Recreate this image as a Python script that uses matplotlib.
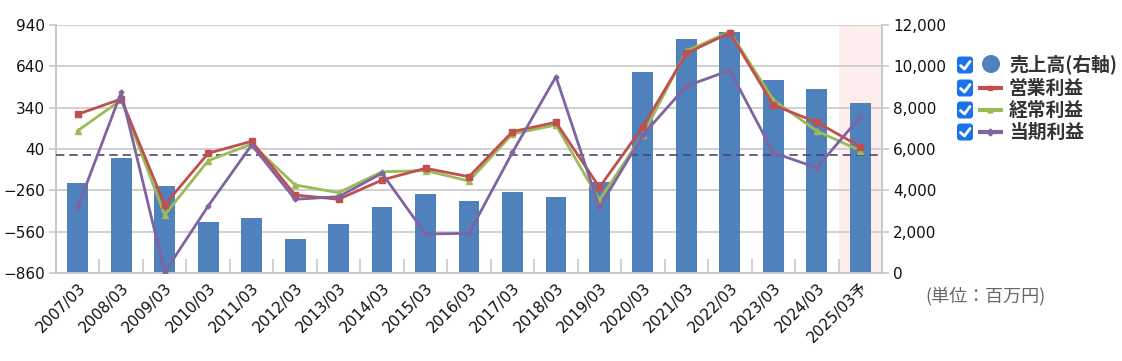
#
# 売上高・利益の推移チャート
#

import matplotlib.pyplot as plt
from matplotlib.patches import FancyBboxPatch, Circle
from matplotlib.ticker import FuncFormatter

plt.rcParams['font.family'] = ['DejaVu Sans', 'Noto Sans CJK JP']

# データ
years = ['2007/03', '2008/03', '2009/03', '2010/03', '2011/03', '2012/03', '2013/03',
         '2014/03', '2015/03', '2016/03', '2017/03', '2018/03', '2019/03', '2020/03',
         '2021/03', '2022/03', '2023/03', '2024/03', '2025/03予']
sales = [4340, 5565, 4195, 2453, 2661, 1645, 2371, 3178, 3823, 3468,
         3904, 3678, 4403, 9711, 11308, 11662, 9339, 8904, 8242]
op_profit = [292, 403, -366, 9, 96, -294, -325, -185, -100, -161,
             166, 234, -238, 202, 734, 884, 359, 234, 57]
ord_profit = [173, 396, -439, -45, 76, -221, -277, -125, -117, -192,
              149, 214, -330, 142, 751, 891, 396, 171, 28]
net_profit = [-383, 451, -855, -374, 69, -325, -306, -136, -577, -572,
              16, 565, -383, 142, 497, 611, 13, -96, 274]
left_ticks = [-860, -560, -260, 40, 340, 640, 940]
right_ticks = [0, 2000, 4000, 6000, 8000, 10000, 12000]

c_bar = '#4f81bd'
c_op = '#c0504d'
c_ord = '#9bbb59'
c_net = '#8064a2'
grid_c = '#c8c8c8'


def draw_chart():
    fig = plt.figure(figsize=(11.22, 3.61), dpi=100)
    W, H = 1122, 361
    ax = fig.add_axes([56 / W, (H - 273) / H, (882 - 56) / W, (273 - 25) / H])
    ax_r = ax.twinx()
    # 折れ線を棒の上に描く
    ax.set_zorder(ax_r.get_zorder() + 1)
    ax.patch.set_visible(False)

    x = list(range(len(years)))

    # 予想期間の背景
    ax_r.axvspan(len(years) - 1.5, len(years) - 0.5, color='#fdeded', zorder=0, lw=0)
    ax_r.bar(x, sales, width=0.48, color=c_bar, zorder=2)
    ax_r.set_ylim(0, 12000)
    ax_r.set_yticks(right_ticks)
    ax_r.yaxis.set_major_formatter(FuncFormatter(lambda v, p: f'{int(v):,}'))
    ax_r.grid(axis='y', color=grid_c, lw=1.2, zorder=1)
    ax_r.set_axisbelow(True)

    ax.axhline(0, color='#4a4a6e', lw=1.2, ls=(0, (5, 3)), zorder=3)
    ax.plot(x, op_profit, color=c_op, lw=2, marker='s', ms=4.5, zorder=5)
    ax.plot(x, ord_profit, color=c_ord, lw=2, marker='^', ms=5, zorder=4)
    ax.plot(x, net_profit, color=c_net, lw=2, marker='D', ms=2.5, zorder=6)
    ax.set_ylim(-860, 940)
    ax.set_yticks(left_ticks)
    ax.set_xlim(-0.5, len(years) - 0.5)
    ax.set_xticks(x)
    ax.set_xticklabels(years, rotation=45, ha='right', rotation_mode='anchor')
    ax.set_xticks([i + 0.5 for i in x[:-1]], minor=True)

    for a in (ax, ax_r):
        for s in a.spines.values():
            s.set_color(grid_c)
            s.set_linewidth(1.2)
        a.spines['top'].set_visible(False)
        a.tick_params(axis='y', colors=grid_c, labelcolor='#111111', labelsize=11,
                      length=5, width=1.2, pad=3)
    ax.tick_params(axis='x', which='major', length=0, labelsize=11,
                   labelcolor='#111111', pad=5)
    ax.tick_params(axis='x', which='minor', direction='in', length=10,
                   color=grid_c, width=1.2)

    # 凡例 (チェックボックス付き)
    lg = fig.add_axes([0, 0, 1, 1])
    lg.set_xlim(0, W)
    lg.set_ylim(H, 0)
    lg.axis('off')
    labels = ['売上高(右軸)', '営業利益', '経常利益', '当期利益']
    rows = [65, 88, 110, 132]
    for i, (lab, yy) in enumerate(zip(labels, rows)):
        lg.add_patch(FancyBboxPatch((957, yy - 8.5), 16, 17,
                                    boxstyle='round,pad=0,rounding_size=3',
                                    fc='#1a73e8', ec='none'))
        lg.plot([960.5, 964.5, 970], [yy + 0.5, yy + 4, yy - 3.5], color='white', lw=2,
                solid_capstyle='round', solid_joinstyle='round')
        if i == 0:
            lg.add_patch(Circle((991, yy - 1), 9, fc=c_bar, ec='none'))
        else:
            col = [c_op, c_ord, c_net][i - 1]
            mk = ['s', '^', 'D'][i - 1]
            lg.plot([978, 1003], [yy, yy], color=col, lw=3, solid_capstyle='butt')
            lg.plot([990.5], [yy], marker=mk, color=col, ms=3.5)
        lg.text(1009, yy, lab, fontsize=13.5, fontweight='bold', color='#333333',
                va='center', ha='left', family=['Noto Sans CJK JP', 'DejaVu Sans'])

    lg.text(925, 296, '(単位：百万円)', fontsize=13, color='#666666',
            va='center', ha='left', family=['Noto Sans CJK JP', 'DejaVu Sans'])

    plt.savefig('out.png', dpi=100)


if __name__ == "__main__":
    draw_chart()
